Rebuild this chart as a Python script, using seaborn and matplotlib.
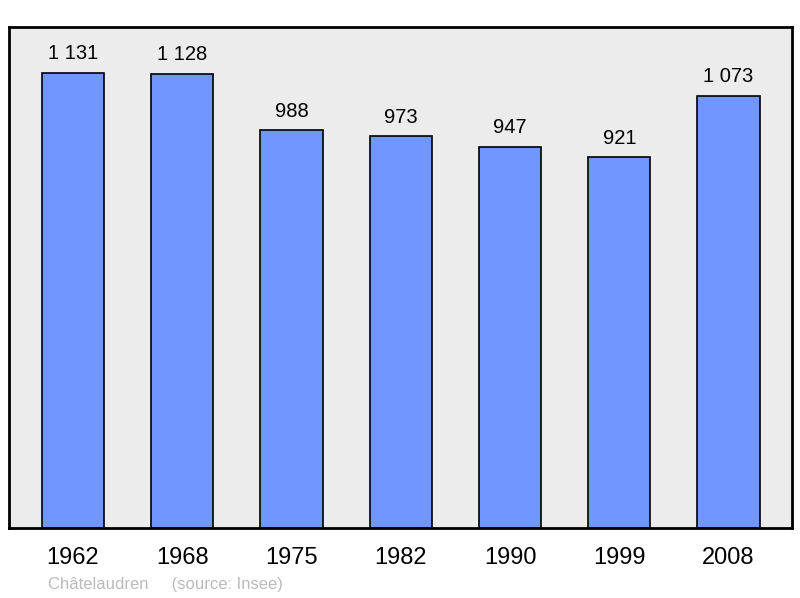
import pandas as pd
import matplotlib
matplotlib.use("Agg")
import matplotlib.pyplot as plt
import seaborn as sns

years = ["1962", "1968", "1975", "1982", "1990", "1999", "2008"]
population = [1131, 1128, 988, 973, 947, 921, 1073]
labels = ["1 131", "1 128", "988", "973", "947", "921", "1 073"]

df = pd.DataFrame({"year": years, "pop": population})

sns.set_style("white")
plt.rcParams["font.family"] = ["Liberation Sans", "DejaVu Sans"]

fig = plt.figure(figsize=(8, 5.98), dpi=100)
ax = fig.add_axes([9 / 800, 1 - 528 / 598, 783 / 800, 501 / 598])
ax.set_facecolor("#ececec")

sns.barplot(data=df, x="year", y="pop", color="#7096ff", saturation=1,
            width=0.57, edgecolor="black", linewidth=1.2, ax=ax)

for i, (v, lab) in enumerate(zip(population, labels)):
    ax.text(i, v + 48, lab, ha="center", va="center", fontsize=14.5,
            color="black")

ax.set_xlim(-0.585, 6.58)
ax.set_ylim(0, 1245)
ax.set_yticks([])
ax.set_xlabel("")
ax.set_ylabel("")
ax.tick_params(axis="x", length=0, labelsize=17, pad=14, labelcolor="black")
for s in ax.spines.values():
    s.set_color("black")
    s.set_linewidth(2)

fig.text(48 / 800, 1 - 584 / 598, "Châtelaudren     (source: Insee)",
         color="#bbbbbb", fontsize=12, va="center")

fig.savefig("out.png", dpi=100)
